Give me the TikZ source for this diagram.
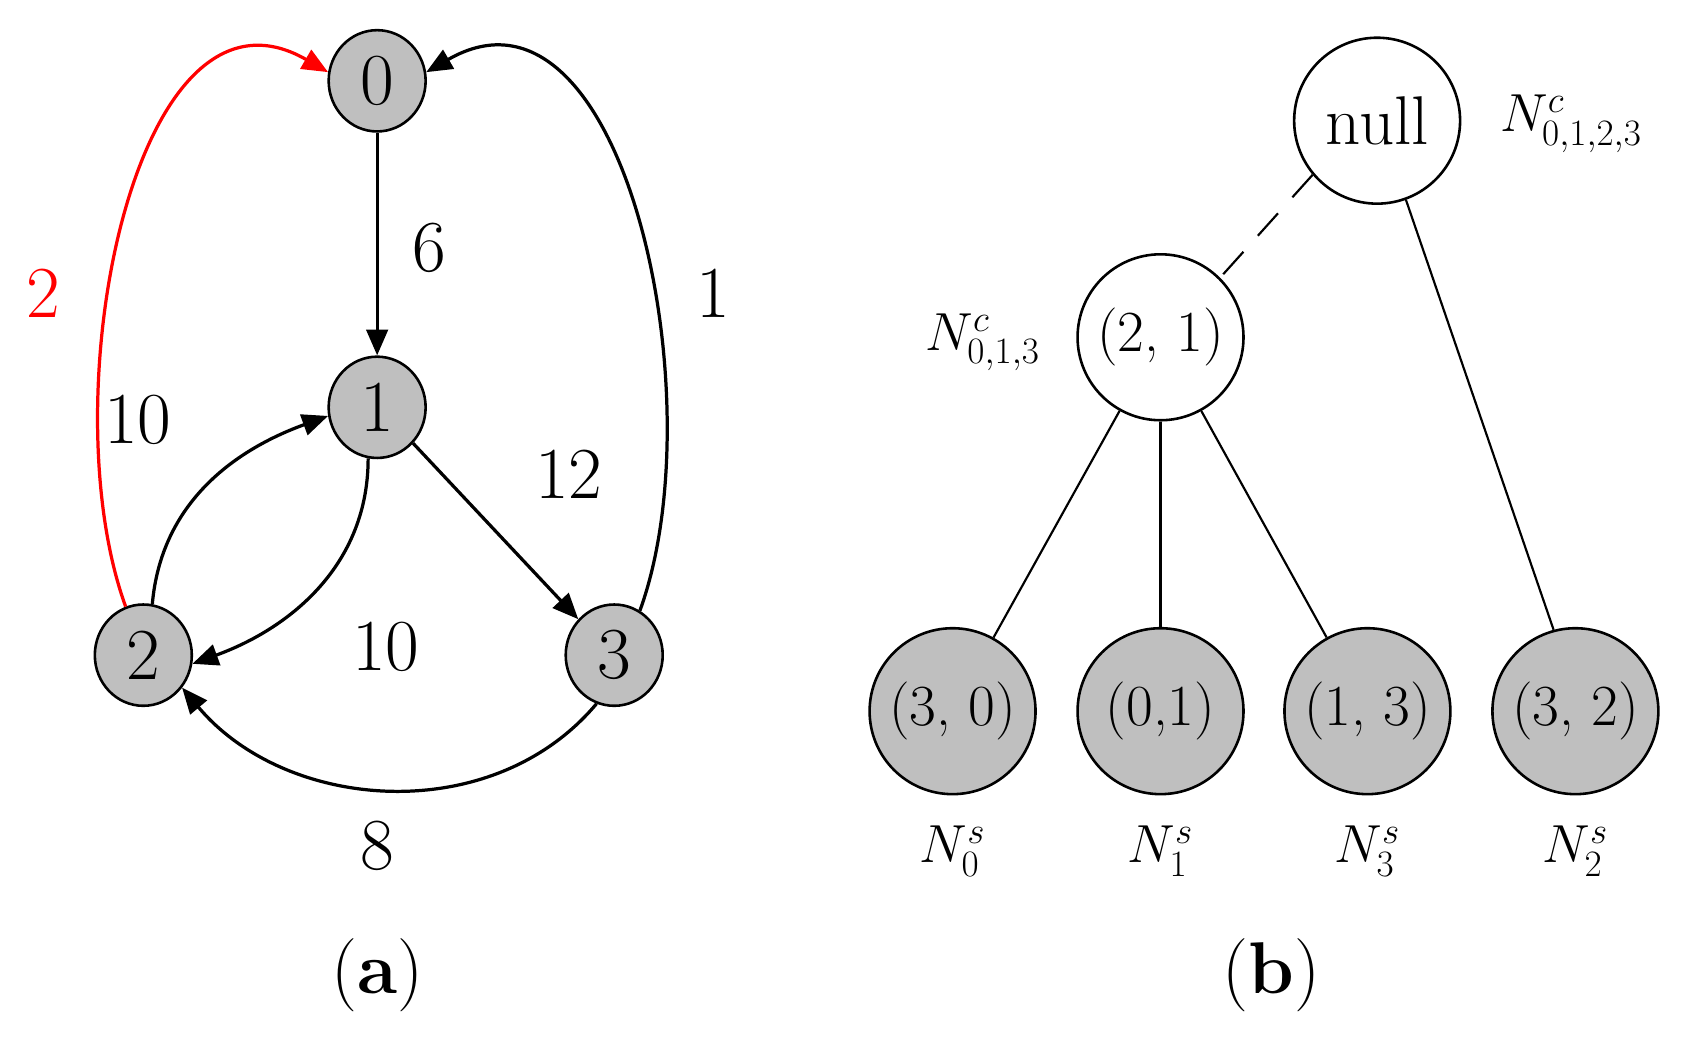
\documentclass[tikz,border=0pt]{standalone}
\usetikzlibrary{arrows.meta,shapes.geometric}
\begin{document}
\begin{tikzpicture}[x=0.5pt,y=-0.5pt,
 v/.style={draw,line width=1.2pt,fill=black!25,ellipse,minimum width=45pt,minimum height=47pt,inner sep=0pt,font=\fontsize{34}{34}\selectfont},
 t/.style={draw,line width=1.2pt,circle,minimum size=77pt,inner sep=0pt,font=\fontsize{27}{27}\selectfont},
 g/.style={t,fill=black!25},
 lab/.style={font=\fontsize{34}{34}\selectfont},
 nl/.style={font=\fontsize{25}{25}\selectfont},
 e/.style={line width=1.5pt,-{Triangle[length=12pt,width=10pt]}},
 l/.style={line width=1pt}]
\useasboundingbox (0,0) rectangle (1560,962);
\node[v] (n0) at (350,75) {0};
\node[v] (n1) at (350,378) {1};
\node[v] (n2) at (133,608) {2};
\node[v] (n3) at (570,608) {3};
\draw[e] (n0) -- (n1);
\draw[e] (n1.-45) -- (n3.135);
\draw[e] (n2.80) to[out=85,in=200] (n1.190);
\draw[e] (n1.-100) to[out=-90,in=20] (n2.-10);
\draw[e] (n3.-110) to[out=-130,in=-50] (n2.-40);
\draw[e] (n3.60) to[out=70,in=30] (n0.10);
\draw[e,red] (n2.110) to[out=110,in=150] (n0.170);
\node[lab] (l6) at (398,230) {6};
\node[lab] (l1) at (662,272) {1};
\node[lab,red] (l2) at (40,272) {2};
\node[lab] (l10a) at (128,390) {10};
\node[lab] (l12) at (528,440) {12};
\node[lab] (l10b) at (358,600) {10};
\node[lab] (l8) at (350,785) {8};
\node[lab] (ca) at (350,905) {(\textbf{a})};
\node[lab] (cb) at (1180,905) {(\textbf{b})};
\node[t] (nu) at (1278,112) {\fontsize{32}{32}\selectfont null};
\node[t] (m) at (1077,313) {(2, 1)};
\node[g] (c0) at (884,660) {(3, 0)};
\node[g] (c1) at (1077,660) {(0,1)};
\node[g] (c3) at (1269,660) {(1, 3)};
\node[g] (c2) at (1462,660) {(3, 2)};
\draw[l,dashed,dash pattern=on 14pt off 10pt] (nu.-140) -- (m.45);
\draw[l] (nu.-70) -- (c2.105);
\draw[l] (m) -- (c0);
\draw[l] (m) -- (c1);
\draw[l] (m) -- (c3);
\node[nl] (a1) at (1458,115) {$N^{c}_{0,1,2,3}$};
\node[nl] (a2) at (912,318) {$N^{c}_{0,1,3}$};
\node[nl] (s0) at (884,790) {$N^{s}_{0}$};
\node[nl] (s1) at (1077,790) {$N^{s}_{1}$};
\node[nl] (s3) at (1269,790) {$N^{s}_{3}$};
\node[nl] (s2) at (1462,790) {$N^{s}_{2}$};
\end{tikzpicture}
\end{document}
